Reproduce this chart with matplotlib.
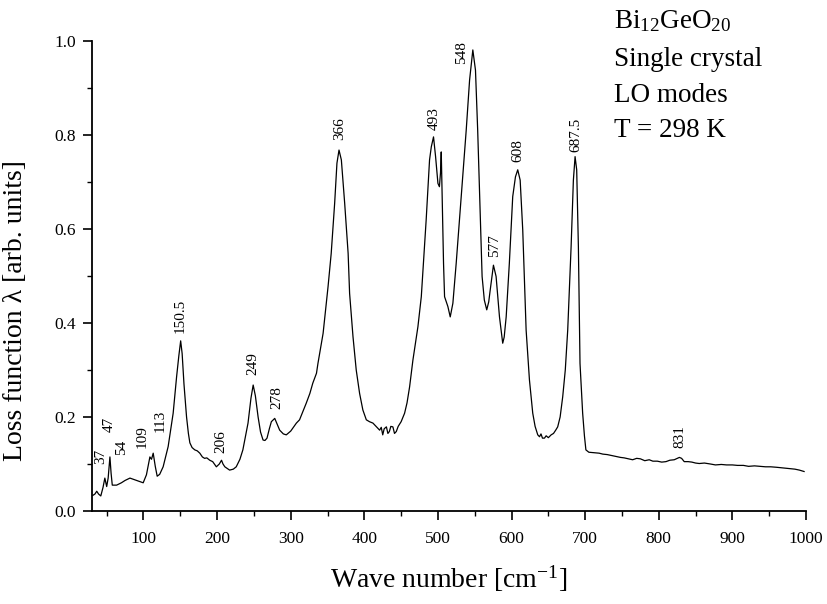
import matplotlib
matplotlib.use('Agg')
import matplotlib.pyplot as plt
from matplotlib.ticker import MultipleLocator, FormatStrFormatter

plt.rcParams['font.family'] = ['Liberation Serif', 'DejaVu Serif']
plt.rcParams['mathtext.fontset'] = 'custom'
plt.rcParams['mathtext.rm'] = 'Liberation Serif'
plt.rcParams['mathtext.it'] = 'Liberation Serif:italic'

# ---------------------------------------------------------------------------
# Spectrum (wave number in cm^-1, loss function)
# ---------------------------------------------------------------------------
wavenumber = [
    31, 34, 36.5, 39, 42, 45, 47.5, 50, 52, 54.4, 56, 57.6, 63.5, 70, 75,
    81.6, 87, 92.8, 99.6, 104, 108.7, 110.9, 113.2, 116, 118.6, 122, 126.7,
    133.5, 140.3, 145, 148, 150.5, 152.5, 155, 158.5, 161, 163, 166, 169.7,
    173, 176.5, 180, 183, 186, 190, 194, 199, 203, 206, 208, 210.5, 217, 222,
    226, 231, 235, 242, 246, 249, 252, 255.7, 259, 262.4, 265, 267.8, 271,
    273.7, 278.3, 282, 285, 290, 294, 300, 307.7, 312, 321, 326, 330, 335,
    337, 344, 350.7, 355, 359.7, 362.8, 365.6, 368.8, 373.3, 378, 380, 384.6,
    389, 393.6, 398, 402.7, 407, 411.7, 416, 420.8, 423, 425, 427, 430, 432,
    434, 436, 438.8, 441, 443.4, 446, 450, 454.7, 458, 461.5, 466, 472.8,
    477.4, 480.5, 484, 488.6, 491, 494, 496.8, 500, 502, 503.5, 504.5, 505.8,
    507.6, 509, 513.5, 516.7, 520.3, 524.8, 531.6, 538.4, 543, 547.4, 551,
    554, 557.4, 560, 563, 566.3, 569, 571, 575.4, 579, 583.6, 588, 590, 592.7,
    597, 601.6, 605.3, 608.4, 611.7, 615.2, 619.8, 624.3, 628.8, 632, 635.6,
    638, 640, 642, 644.7, 647, 650, 653.8, 657, 660, 662.7, 666, 669.5, 673,
    676.3, 680.9, 684, 686.3, 688.5, 690.8, 693, 696.6, 699, 701, 705, 712,
    719, 724, 730, 736, 742, 748, 753, 759, 764.5, 770, 775, 781, 787, 792,
    798, 804, 809.8, 815, 821, 825, 828, 831, 834.6, 840, 845, 850, 855, 862,
    870, 877, 885, 892, 900, 907, 915, 922, 930, 937, 945, 952, 960, 966,
    972.6, 979, 985, 991, 997.4,
]
loss = [
    0.033, 0.036, 0.042, 0.036, 0.032, 0.050, 0.070, 0.052, 0.070, 0.115,
    0.080, 0.055, 0.055, 0.060, 0.065, 0.070, 0.067, 0.064, 0.060, 0.077,
    0.115, 0.110, 0.123, 0.095, 0.074, 0.078, 0.094, 0.137, 0.208, 0.286,
    0.330, 0.362, 0.335, 0.270, 0.200, 0.165, 0.145, 0.135, 0.130, 0.128,
    0.123, 0.115, 0.112, 0.113, 0.108, 0.105, 0.094, 0.100, 0.108, 0.100,
    0.094, 0.087, 0.089, 0.094, 0.110, 0.130, 0.187, 0.240, 0.268, 0.245,
    0.200, 0.168, 0.151, 0.150, 0.155, 0.175, 0.190, 0.197, 0.183, 0.172,
    0.164, 0.162, 0.170, 0.187, 0.194, 0.229, 0.250, 0.272, 0.293, 0.314,
    0.378, 0.477, 0.548, 0.655, 0.740, 0.768, 0.747, 0.655, 0.548, 0.463,
    0.371, 0.300, 0.250, 0.215, 0.194, 0.190, 0.187, 0.180, 0.172, 0.178,
    0.162, 0.175, 0.179, 0.165, 0.169, 0.180, 0.179, 0.165, 0.169, 0.180,
    0.190, 0.208, 0.230, 0.264, 0.321, 0.392, 0.456, 0.534, 0.619, 0.747,
    0.775, 0.796, 0.754, 0.697, 0.690, 0.720, 0.764, 0.669, 0.527, 0.456,
    0.435, 0.413, 0.442, 0.527, 0.669, 0.810, 0.917, 0.981, 0.938, 0.810,
    0.633, 0.499, 0.449, 0.428, 0.445, 0.470, 0.523, 0.499, 0.413, 0.357,
    0.370, 0.413, 0.527, 0.669, 0.711, 0.726, 0.704, 0.598, 0.385, 0.279,
    0.208, 0.180, 0.162, 0.158, 0.164, 0.155, 0.155, 0.160, 0.156, 0.162,
    0.165, 0.172, 0.179, 0.200, 0.243, 0.300, 0.385, 0.562, 0.704, 0.754,
    0.726, 0.562, 0.314, 0.208, 0.160, 0.130, 0.125, 0.124, 0.123, 0.121,
    0.120, 0.118, 0.116, 0.114, 0.113, 0.111, 0.109, 0.112, 0.111, 0.107,
    0.109, 0.106, 0.106, 0.104, 0.105, 0.108, 0.109, 0.112, 0.114, 0.112,
    0.105, 0.105, 0.104, 0.102, 0.101, 0.102, 0.100, 0.098, 0.099, 0.098,
    0.098, 0.097, 0.097, 0.095, 0.096, 0.095, 0.094, 0.094, 0.093, 0.092,
    0.091, 0.090, 0.089, 0.087, 0.084,
]

# peak labels: text, x centre, y of the text's lower end
peak_labels = ['37', '47', '54', '109', '113', '150.5', '206', '249', '278',
               '366', '493', '548', '577', '608', '687.5', '831']
label_x = [42, 53.5, 70, 98.6, 122.7, 150.5, 204.6, 249, 280.6,
           366, 495, 531.6, 577, 608.5, 687.6, 828]
label_y = [0.101, 0.169, 0.119, 0.133, 0.169, 0.378, 0.123, 0.289, 0.218,
           0.789, 0.810, 0.952, 0.541, 0.743, 0.764, 0.135]

info_lines = ['Bi$_{12}$GeO$_{20}$', 'Single crystal', 'LO modes', 'T = 298 K']
info_y = [1.028, 0.946, 0.870, 0.796]

# ---------------------------------------------------------------------------
fig = plt.figure(figsize=(8.27, 6.04), dpi=100)
ax = fig.add_axes([0.1112, 0.154, 0.8634, 0.7781])

ax.plot(wavenumber, loss, color='black', linewidth=0.9)

ax.set_xlim(30, 1000)
ax.set_ylim(0, 1.0)
ax.spines['top'].set_visible(False)
ax.spines['right'].set_visible(False)
for s in ('left', 'bottom'):
    ax.spines[s].set_linewidth(1.3)

ax.xaxis.set_major_locator(MultipleLocator(100))
ax.xaxis.set_minor_locator(MultipleLocator(50))
ax.yaxis.set_major_locator(MultipleLocator(0.2))
ax.yaxis.set_minor_locator(MultipleLocator(0.1))
ax.yaxis.set_major_formatter(FormatStrFormatter('%.1f'))
ax.tick_params(which='major', direction='out', length=6.5, width=1.2,
               labelsize=12.5)
ax.tick_params(which='minor', direction='out', length=3.5, width=1.0)
ax.tick_params(axis='x', which='major', pad=8)
ax.tick_params(axis='y', which='major', pad=5)

ax.set_xlabel('Wave number [cm$^{-1}$]', fontsize=20)
ax.set_ylabel('Loss function λ [arb. units]', fontsize=20)
ax.xaxis.set_label_coords(0.5, -0.111)
ax.yaxis.set_label_coords(-0.09, 0.426)

for txt, lx, ly in zip(peak_labels, label_x, label_y):
    ax.text(lx, ly, txt, rotation=90, ha='center', va='bottom', fontsize=11)

for txt, ty in zip(info_lines, info_y):
    ax.text(739.6, ty, txt, ha='left', va='baseline', fontsize=19.5)

fig.savefig('out.png', dpi=100)
